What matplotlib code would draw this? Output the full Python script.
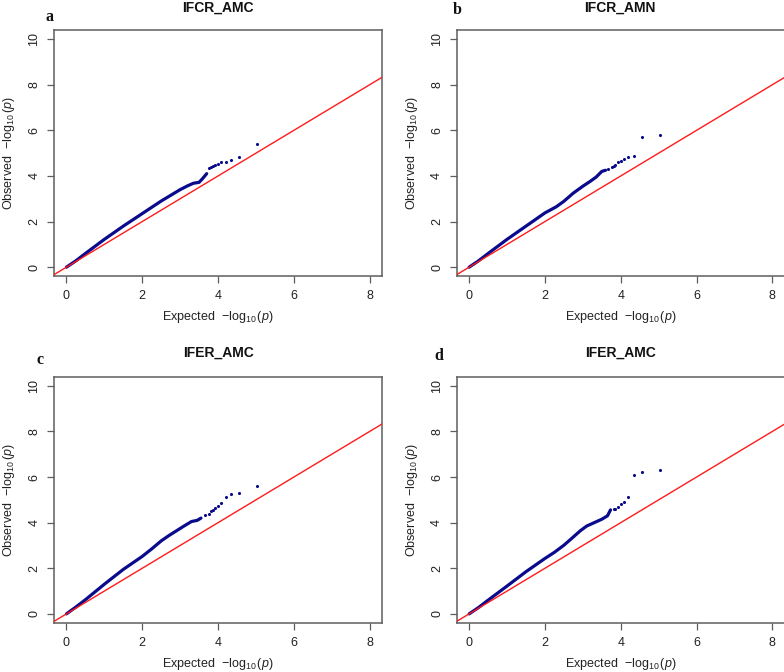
import matplotlib
matplotlib.use("Agg")
import matplotlib.pyplot as plt
import numpy as np

plt.rcParams['font.family'] = ['Liberation Sans', 'DejaVu Sans']
plt.rcParams['mathtext.fontset'] = 'custom'
plt.rcParams['mathtext.rm'] = 'Liberation Sans'
plt.rcParams['mathtext.it'] = 'Liberation Sans:italic'

# ---- data ----
titles = ["IFCR_AMC", "IFCR_AMN", "IFER_AMC", "IFER_AMC"]
panel_letters = ["a", "b", "c", "d"]

# dense part of each QQ curve (expected, observed)
curve_exp_a = [0.0, 0.25, 0.5, 1.0, 1.5, 2.0, 2.3, 2.5, 2.8, 3.0, 3.2, 3.35, 3.5, 3.6, 3.7]
curve_obs_a = [0.0, 0.28, 0.6, 1.22, 1.8, 2.35, 2.68, 2.9, 3.2, 3.4, 3.57, 3.68, 3.72, 3.9, 4.1]
tail_exp_a = [3.76, 3.81, 3.86, 3.93, 4.00, 4.09, 4.20, 4.34, 4.56, 5.04]
tail_obs_a = [4.36, 4.40, 4.44, 4.48, 4.53, 4.61, 4.61, 4.69, 4.82, 5.40]

curve_exp_b = [0.0, 0.25, 0.5, 1.0, 1.5, 2.0, 2.3, 2.5, 2.75, 3.0, 3.2, 3.35, 3.5, 3.6]
curve_obs_b = [0.0, 0.28, 0.6, 1.22, 1.8, 2.38, 2.65, 2.89, 3.25, 3.55, 3.77, 3.95, 4.2, 4.25]
tail_exp_b = [3.66, 3.76, 3.81, 3.86, 3.93, 4.00, 4.09, 4.20, 4.34, 4.56, 5.04]
tail_obs_b = [4.30, 4.40, 4.45, 4.50, 4.60, 4.64, 4.76, 4.85, 4.86, 5.69, 5.78]

curve_exp_c = [0.0, 0.25, 0.5, 1.0, 1.5, 2.0, 2.25, 2.5, 2.7, 2.9, 3.1, 3.3, 3.45, 3.55]
curve_obs_c = [0.0, 0.3, 0.62, 1.3, 1.95, 2.52, 2.85, 3.2, 3.43, 3.64, 3.85, 4.05, 4.1, 4.2]
tail_exp_c = [3.66, 3.76, 3.81, 3.86, 3.93, 4.00, 4.09, 4.20, 4.34, 4.56, 5.04]
tail_obs_c = [4.35, 4.40, 4.50, 4.56, 4.64, 4.73, 4.85, 5.11, 5.27, 5.31, 5.62]

curve_exp_d = [0.0, 0.25, 0.5, 1.0, 1.5, 2.0, 2.25, 2.5, 2.7, 2.93, 3.1, 3.3, 3.5, 3.65, 3.73]
curve_obs_d = [0.0, 0.28, 0.6, 1.22, 1.85, 2.43, 2.7, 3.01, 3.3, 3.64, 3.85, 4.0, 4.15, 4.3, 4.56]
tail_exp_d = [3.81, 3.86, 3.93, 4.00, 4.09, 4.20, 4.34, 4.56, 5.04]
tail_obs_d = [4.58, 4.60, 4.69, 4.83, 4.92, 5.11, 6.07, 6.22, 6.29]

curves = [(curve_exp_a, curve_obs_a, tail_exp_a, tail_obs_a),
          (curve_exp_b, curve_obs_b, tail_exp_b, tail_obs_b),
          (curve_exp_c, curve_obs_c, tail_exp_c, tail_obs_c),
          (curve_exp_d, curve_obs_d, tail_exp_d, tail_obs_d)]

x_ticks = [0, 2, 4, 6, 8]
y_ticks = [0, 2, 4, 6, 8, 10]
x_range = (0, 8)
y_range = (0, 10)

# ---- layout ----
W, H = 784, 672
fig = plt.figure(figsize=(W / 100, H / 100), dpi=100)

axes_px = [(54.3, 30.0), (457.0, 30.0), (54.3, 376.7), (457.0, 376.7)]  # left, top
ax_w, ax_h = 327.5, 246.3
title_px = [(218, 8), (620, 8), (218, 353), (620, 353)]
letter_px = [(49, 17), (457, 10), (40, 360), (439, 356)]

frame_col = "#5e5e5e"
pt_col = "#0a0a8c"

def pad_lim(r):
    d = (r[1] - r[0]) * 0.04
    return (r[0] - d, r[1] + d)

for i in range(4):
    l, t = axes_px[i]
    ax = fig.add_axes([l / W, 1 - (t + ax_h) / H, ax_w / W, ax_h / H])
    ce, co, te, to = curves[i]
    xl = pad_lim(x_range)
    yl = pad_lim(y_range)
    ax.plot(ce, co, color=pt_col, lw=2.3, solid_capstyle='round',
            solid_joinstyle='round', zorder=2)
    ax.scatter(te, to, s=5, color=pt_col, zorder=3, linewidths=0)
    ax.plot([-1, 12], [-1, 12], color="#ff1a1a", lw=1.0, zorder=4)
    ax.set_xlim(xl)
    ax.set_ylim(yl)
    ax.set_xticks(x_ticks)
    ax.set_yticks(y_ticks)
    ax.tick_params(direction='out', length=5, width=0.9, color=frame_col,
                   labelsize=9, labelcolor="#222222", pad=5)
    for lab in ax.get_yticklabels():
        lab.set_rotation(90)
        lab.set_va('center')
    for s in ax.spines.values():
        s.set_color(frame_col)
        s.set_linewidth(1.1)
    ax.set_xlabel(r"Expected  $-\log_{10}(\mathit{p})$", fontsize=9, color="#222222")
    ax.set_ylabel(r"Observed  $-\log_{10}(\mathit{p})$", fontsize=9, color="#222222")
    ax.xaxis.set_label_coords(0.5, -41 / ax_h)
    ax.xaxis.label.set_va('center')
    ax.yaxis.set_label_coords(-45 / ax_w, 0.5)
    ax.yaxis.label.set_va('center')

    tx, ty = title_px[i]
    fig.text(tx / W, 1 - ty / H, titles[i], ha='center', va='center',
             fontsize=10, fontweight='bold', color="#111111")
    lx, ly = letter_px[i]
    fig.text(lx / W, 1 - ly / H, panel_letters[i], ha='center', va='center',
             fontsize=11.5, fontweight='bold', family='Liberation Serif', color="#111111")

fig.savefig("out.png", dpi=100)
